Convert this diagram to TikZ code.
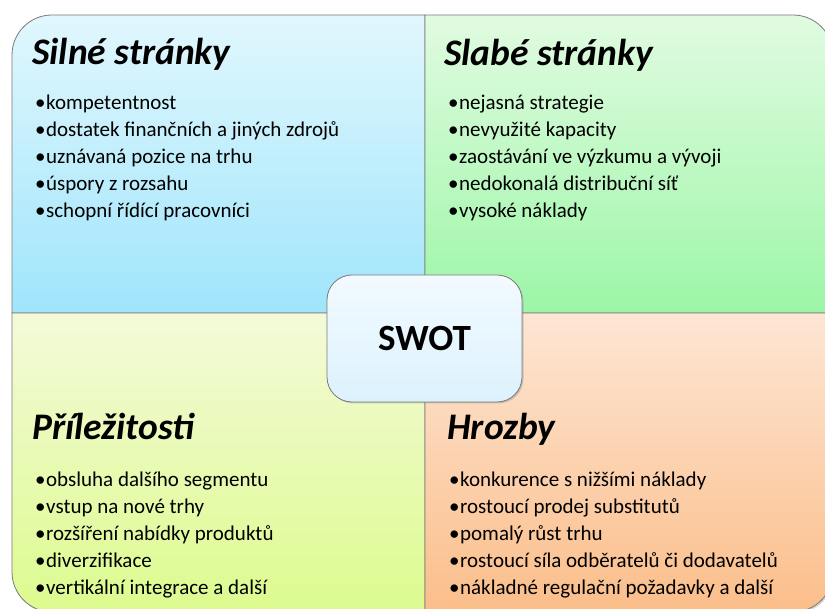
\documentclass[tikz,border=0pt]{standalone}
\usepackage{fontspec}
\setmainfont{Carlito}
\usetikzlibrary{shadows}

\definecolor{quadline}{HTML}{7A7A7A}
\definecolor{silneTop}{HTML}{E1F7FD}
\definecolor{silneBot}{HTML}{9FE5FB}
\definecolor{slabeTop}{HTML}{E1FBE1}
\definecolor{slabeBot}{HTML}{9CF6A7}
\definecolor{prilTop}{HTML}{F4FAD9}
\definecolor{prilBot}{HTML}{DCFB8E}
\definecolor{hrozTop}{HTML}{FDE6D4}
\definecolor{hrozBot}{HTML}{FBBE8A}
\definecolor{swotTop}{HTML}{F3FAFF}
\definecolor{swotBot}{HTML}{DCF2FD}

\tikzset{
  quad/.style={draw=quadline, line width=0.8pt,
    drop shadow={opacity=0.35, shadow xshift=1.5pt, shadow yshift=-1.5pt}},
  heading/.style={anchor=base west, inner sep=0pt,
    font=\fontsize{37.5}{42}\selectfont\bfseries\itshape},
  item/.style={anchor=base west, inner sep=0pt,
    font=\fontsize{21}{25}\selectfont},
  swotbox/.style={draw=quadline, line width=0.8pt, rounded corners=25pt,
    top color=swotTop, bottom color=swotBot,
    minimum width=195pt, minimum height=127pt,
    font=\fontsize{37}{40}\selectfont\bfseries,
    drop shadow={opacity=0.35, shadow xshift=1.5pt, shadow yshift=-1.5pt}},
}

\begin{document}
\begin{tikzpicture}[x=1pt,y=1pt]
  \useasboundingbox (0,0) rectangle (825,609);

  % Quadrants
  \draw[quad, top color=silneTop, bottom color=silneBot]
    (12,296) [rounded corners=40pt] -- (12,594) [sharp corners] -- (425,594) -- (425,296) -- cycle;
  \draw[quad, top color=slabeTop, bottom color=slabeBot]
    (425,296) -- (425,594) [rounded corners=40pt] -- (833,594) [sharp corners] -- (833,296) -- cycle;
  \draw[quad, top color=prilTop, bottom color=prilBot]
    (425,296) -- (12,296) [rounded corners=40pt] -- (12,-3) [sharp corners] -- (425,-3) -- cycle;
  \draw[quad, top color=hrozTop, bottom color=hrozBot]
    (425,296) -- (833,296) [rounded corners=40pt] -- (833,-3) [sharp corners] -- (425,-3) -- cycle;

  % Silne stranky
  \node[heading] (silne) at (32,544) {Silné stránky};
  \foreach \txt [count=\i] in {kompetentnost, dostatek finančních a jiných zdrojů,
      uznávaná pozice na trhu, úspory z rozsahu, schopní řídící pracovníci}
    \node[item] (silne\i) at (35,499-27*\i+27) {•\hspace{0.5pt}\txt};

  % Slabe stranky
  \node[heading] (slabe) at (444,543) {Slabé stránky};
  \foreach \txt [count=\i] in {nejasná strategie, nevyužité kapacity,
      zaostávání ve výzkumu a vývoji, nedokonalá distribuční síť, vysoké náklady}
    \node[item] (slabe\i) at (448,499-27*\i+27) {•\hspace{0.5pt}\txt};

  % Prilezitosti
  \node[heading] (prilez) at (32,169) {Příležitosti};
  \foreach \txt [count=\i] in {obsluha dalšího segmentu, vstup na nové trhy,
      rozšíření nabídky produktů, diverzifikace, vertikální integrace a další}
    \node[item] (prilez\i) at (35,122-26.8*\i+26.8) {•\hspace{0.5pt}\txt};

  % Hrozby
  \node[heading] (hrozby) at (447,169) {Hrozby};
  \foreach \txt [count=\i] in {konkurence s nižšími náklady, rostoucí prodej substitutů,
      pomalý růst trhu, rostoucí síla odběratelů či dodavatelů,
      nákladné regulační požadavky a další}
    \node[item] (hrozby\i) at (449,122-26.8*\i+26.8) {•\hspace{0.5pt}\txt};

  % Center
  \node[swotbox] (swot) at (424.5,270.5) {SWOT};
\end{tikzpicture}
\end{document}
